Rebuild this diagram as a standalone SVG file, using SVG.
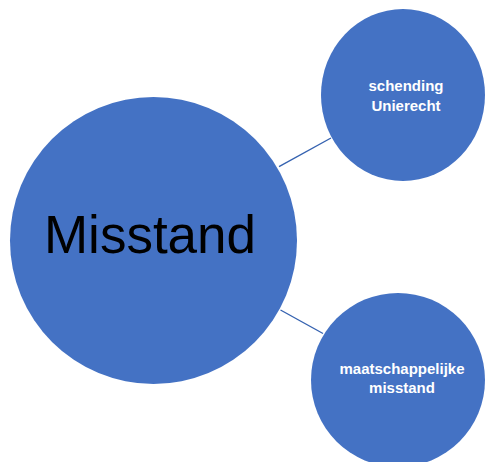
<svg xmlns="http://www.w3.org/2000/svg" width="487" height="462" viewBox="0 0 487 462">
<style>
.node{fill:#4472C4;}
.conn{stroke:#3562B0;stroke-width:1.4;fill:none;}
.small{font-family:"Liberation Sans",Arial,sans-serif;font-weight:bold;font-size:15px;fill:#FFFFFF;text-anchor:middle;}
.big{font-family:"Liberation Sans",Arial,sans-serif;font-size:53px;fill:#000000;text-anchor:middle;}
</style>
<rect width="487" height="462" fill="#FFFFFF"/>
<g id="connectors">
<line class="conn" x1="279" y1="166.7" x2="331" y2="138"/>
<line class="conn" x1="280.5" y1="310" x2="323" y2="333.5"/>
</g>
<g id="node-misstand">
<circle class="node" cx="153.5" cy="240.5" r="143.5"/>
<text class="big" x="150" y="253">Misstand</text>
</g>
<g id="node-schending">
<ellipse class="node" cx="403" cy="95" rx="82" ry="86"/>
<text class="small" x="406" y="91">schending</text>
<text class="small" x="406" y="111">Unierecht</text>
</g>
<g id="node-maatschappelijk">
<circle class="node" cx="398" cy="380" r="87"/>
<text class="small" x="402" y="374">maatschappelijke</text>
<text class="small" x="402" y="393">misstand</text>
</g>
</svg>
